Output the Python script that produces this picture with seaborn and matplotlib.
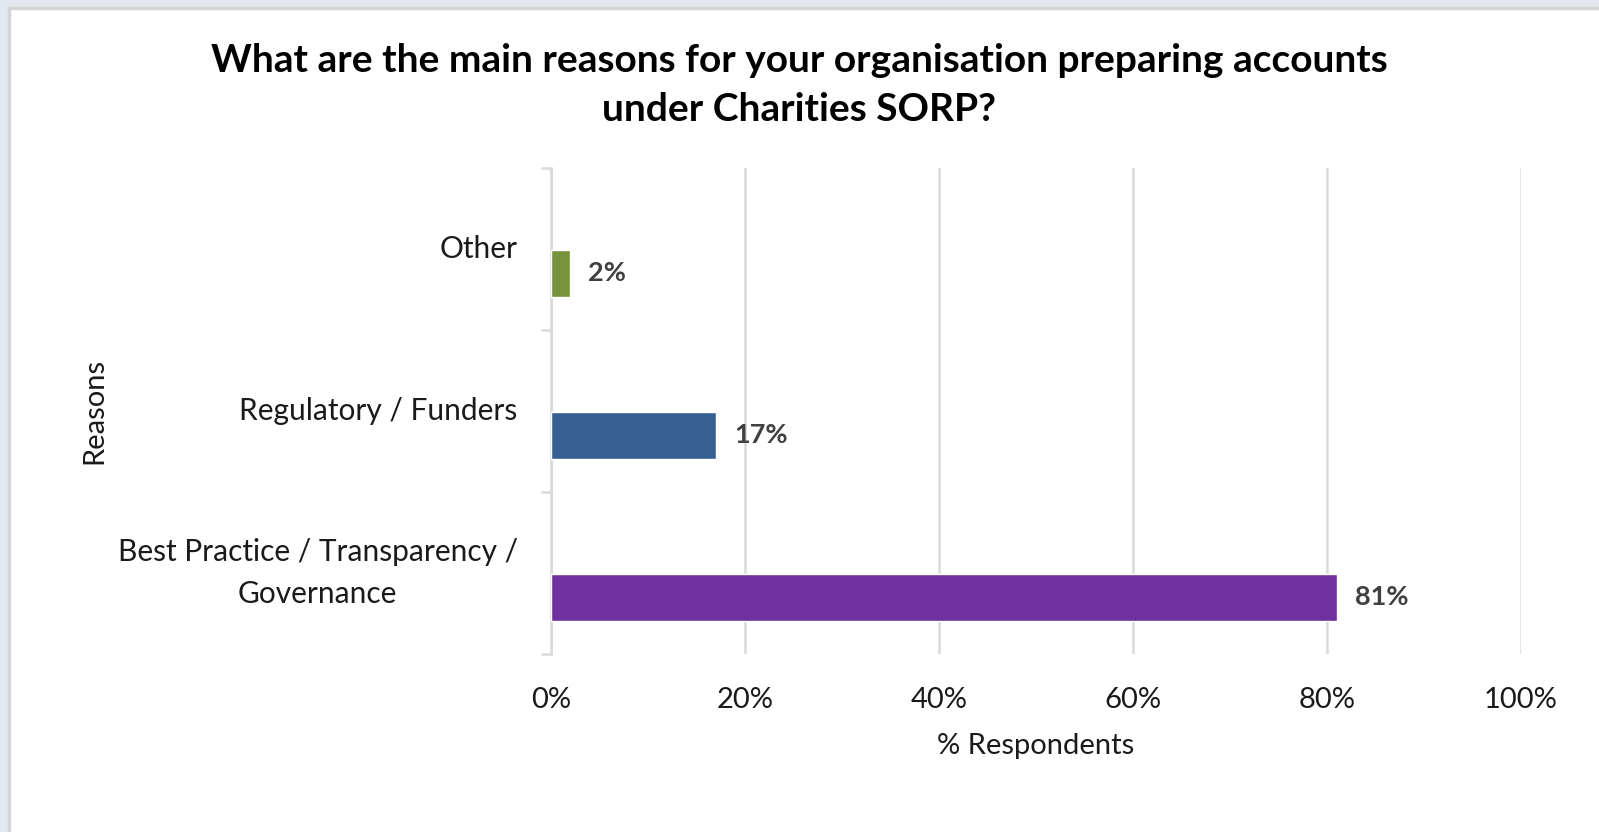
import matplotlib
matplotlib.use("Agg")
import matplotlib.pyplot as plt
from matplotlib.patches import Rectangle
import seaborn as sns
import pandas as pd

# Survey data
reasons = ["Other", "Regulatory / Funders", "Best Practice / Transparency /\nGovernance"]
shares = [2, 17, 81]
bar_colors = ["#77933c", "#376092", "#7030a0"]
x_ticks = [0, 20, 40, 60, 80, 100]
x_tick_labels = ["0%", "20%", "40%", "60%", "80%", "100%"]

sns.set_theme(style="white")
plt.rcParams["font.family"] = ["Lato", "DejaVu Sans"]

# Bars sit slightly below the centre of each category band
bar_shift = 0.15
df = pd.DataFrame({
    "Reason": reasons,
    "Share": shares,
    "Pos": [i + bar_shift for i in range(len(reasons))],
})

fig = plt.figure(figsize=(15.99, 8.32), dpi=100)
fig.patch.set_facecolor("#e3e8f0")

# White chart panel with thin grey edge, kept behind the axes
panel = Rectangle((9 / 1599, -0.01), 1.0, 1.01 - 8 / 832, transform=fig.transFigure,
                  facecolor="white", edgecolor="#d4d4d4", linewidth=2.5, zorder=-10)
fig.patches.append(panel)

ax = fig.add_axes([551 / 1599, 1 - 654 / 832, (1521 - 551) / 1599, (654 - 168) / 832])
ax.set_facecolor("none")

sns.barplot(data=df, y="Pos", x="Share", hue="Reason", palette=bar_colors,
            hue_order=reasons, orient="h", native_scale=True, width=0.29,
            legend=False, ax=ax, saturation=1, zorder=3)

ax.set_xlim(0, 100)
ax.set_ylim(2.5, -0.5)
ax.set_xticks(x_ticks)
ax.set_xticklabels(x_tick_labels, fontsize=21, color="#1a1a1a")
ax.tick_params(axis="x", length=0, pad=24)
ax.xaxis.grid(True, color="#d9d9d9", linewidth=1.8, zorder=0)
ax.yaxis.grid(False)

# Category labels on the left, boundary ticks on the y spine
ax.set_yticks(range(len(reasons)))
ax.set_yticklabels(reasons, fontsize=21.5, color="#1a1a1a", linespacing=1.6)
ax.tick_params(axis="y", which="major", length=0, pad=24)
ax.set_yticks([-0.5, 0.5, 1.5, 2.5], minor=True)
ax.tick_params(axis="y", which="minor", length=7, width=1.8, color="#d9d9d9", left=True)
for lbl in ax.get_yticklabels():
    lbl.set_verticalalignment("center")
    lbl.set_horizontalalignment("right")
    lbl.set_multialignment("center")

for side in ["top", "right", "bottom"]:
    ax.spines[side].set_visible(False)
ax.spines["left"].set_color("#d9d9d9")
ax.spines["left"].set_linewidth(1.8)

ax.set_xlabel("% Respondents", fontsize=21, color="#1a1a1a", labelpad=14)
ax.set_ylabel("Reasons", fontsize=21, color="#1a1a1a")
ax.yaxis.set_label_coords(-0.457, 0.5)

for container in ax.containers:
    ax.bar_label(container, labels=[f"{v:.0f}%" for v in container.datavalues],
                 padding=13, fontsize=19.5, fontweight="bold", color="#404040")

fig.text(0.5, 1 - 85 / 832,
         "What are the main reasons for your organisation preparing accounts\nunder Charities SORP?",
         ha="center", va="center", fontsize=28, fontweight="bold", color="#000000",
         linespacing=1.5)

fig.savefig("out.png", dpi=100, facecolor=fig.get_facecolor())
